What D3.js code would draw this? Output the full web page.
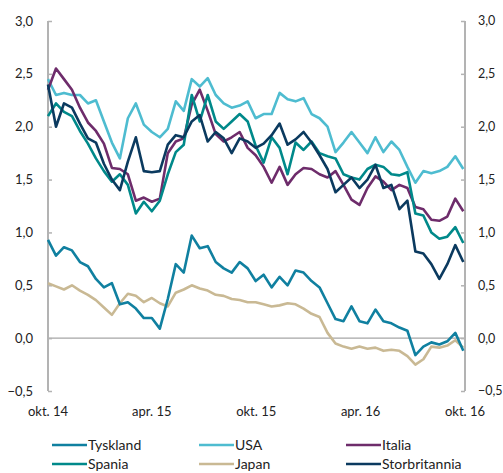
<!DOCTYPE html>
<html>
<head>
<meta charset="utf-8">
<script src="https://cdn.jsdelivr.net/npm/d3@7"></script>
<style>
  body { margin: 0; background: #fff; }
  text { font-family: Lato, "Open Sans", sans-serif; fill: #222; }
</style>
</head>
<body>
<div id="chart"></div>
<script>
// two-weekly observations from 1 Oct 2014
var startDate = new Date(2014, 9, 1);
var dates = d3.range(53).map(i => d3.timeDay.offset(startDate, 14 * i));

var tyskland = [0.93,0.78,0.86,0.83,0.72,0.68,0.56,0.48,0.52,0.32,0.34,0.28,0.19,0.19,0.09,0.37,0.70,0.62,0.97,0.85,
  0.87,0.72,0.66,0.62,0.72,0.66,0.54,0.60,0.48,0.58,0.50,0.64,0.62,0.54,0.48,0.33,0.18,0.16,0.30,0.16,
  0.14,0.27,0.16,0.14,0.10,0.07,-0.16,-0.08,-0.04,-0.06,-0.03,0.05,-0.12];
var usa = [2.45,2.30,2.32,2.30,2.30,2.22,2.25,2.05,1.85,1.70,2.08,2.22,2.02,1.95,1.90,1.98,2.24,2.15,2.45,2.38,
  2.46,2.30,2.22,2.18,2.20,2.24,2.08,2.12,2.12,2.32,2.26,2.24,2.27,2.12,2.08,2.00,1.76,1.85,1.95,1.85,
  1.75,1.90,1.76,1.86,1.78,1.62,1.47,1.58,1.56,1.58,1.62,1.72,1.60];
var italia = [2.35,2.55,2.45,2.35,2.18,2.04,1.96,1.84,1.61,1.60,1.55,1.30,1.33,1.29,1.32,1.75,1.86,1.89,2.21,2.35,
  2.15,1.93,1.86,1.90,1.95,1.80,1.73,1.62,1.47,1.62,1.45,1.55,1.61,1.60,1.55,1.52,1.58,1.45,1.31,1.26,
  1.42,1.53,1.48,1.40,1.45,1.42,1.24,1.22,1.12,1.11,1.15,1.32,1.20];
var spania = [2.10,2.22,2.14,2.10,1.96,1.84,1.70,1.58,1.48,1.55,1.45,1.18,1.29,1.20,1.30,1.55,1.76,1.83,2.30,2.05,
  2.30,2.05,1.98,2.05,2.12,2.05,1.82,1.66,1.90,1.80,1.55,1.85,1.78,1.86,1.75,1.72,1.70,1.55,1.52,1.50,
  1.60,1.64,1.62,1.55,1.54,1.57,1.18,1.16,1.00,0.94,0.96,1.05,0.90];
var japan = [0.52,0.49,0.46,0.50,0.45,0.41,0.36,0.29,0.22,0.33,0.42,0.40,0.34,0.38,0.33,0.30,0.43,0.46,0.50,0.47,
  0.45,0.41,0.40,0.37,0.36,0.34,0.34,0.32,0.30,0.31,0.33,0.32,0.28,0.23,0.20,0.05,-0.05,-0.08,-0.10,-0.08,
  -0.10,-0.09,-0.12,-0.11,-0.12,-0.17,-0.25,-0.20,-0.08,-0.09,-0.07,-0.02,-0.09];
var storbritannia = [2.40,2.00,2.22,2.18,2.03,1.89,1.85,1.65,1.50,1.40,1.67,1.90,1.58,1.57,1.58,1.83,1.92,1.90,2.05,2.11,
  1.86,1.95,1.89,1.75,1.89,1.86,1.80,1.84,1.92,2.03,1.83,1.88,1.95,1.85,1.73,1.60,1.38,1.45,1.52,1.42,
  1.50,1.64,1.42,1.45,1.22,1.30,0.82,0.80,0.70,0.56,0.70,0.88,0.72];

var yTicks = [3.0, 2.5, 2.0, 1.5, 1.0, 0.5, 0.0, -0.5];
var xTicks = [new Date(2014, 9, 1), new Date(2015, 3, 1), new Date(2015, 9, 1), new Date(2016, 3, 1), new Date(2016, 9, 1)];
var xTickLabels = ["okt. 14", "apr. 15", "okt. 15", "apr. 16", "okt. 16"];

var series = [
  {name: "USA", values: usa, color: "#4ebcd0"},
  {name: "Japan", values: japan, color: "#c9b994"},
  {name: "Tyskland", values: tyskland, color: "#1080a0"},
  {name: "Italia", values: italia, color: "#6e2c6b"},
  {name: "Spania", values: spania, color: "#00898a"},
  {name: "Storbritannia", values: storbritannia, color: "#0b3a5f"}
];
var legendOrder = ["Tyskland", "USA", "Italia", "Spania", "Japan", "Storbritannia"];

var svgWidth = 503, svgHeight = 473;
var margin = {top: 21, right: 38, bottom: 82, left: 48};
var width = svgWidth - margin.left - margin.right;
var height = svgHeight - margin.top - margin.bottom;

var svg = d3.select("#chart").append("svg")
  .attr("width", svgWidth)
  .attr("height", svgHeight);

var g = svg.append("g").attr("transform", `translate(${margin.left}, ${margin.top})`);

var x = d3.scaleTime().domain([xTicks[0], xTicks[4]]).range([0, width]);
var y = d3.scaleLinear().domain([-0.5, 3.0]).range([height, 0]);
var fmt = d => d3.format(".1f")(d).replace(".", ",");

// zero line
g.append("line")
  .attr("x1", 0).attr("x2", width)
  .attr("y1", y(0)).attr("y2", y(0))
  .attr("stroke", "#a6a6a6").attr("stroke-width", 1.2);

// left axis, ticks pointing inwards
var leftAxis = g.append("g")
  .call(d3.axisRight(y).tickValues(yTicks).tickSize(4).tickFormat(""));
leftAxis.select(".domain").remove();
leftAxis.selectAll("line").attr("stroke", "#b3b3b3").attr("stroke-width", 1.5);
g.append("line").attr("x1", 0).attr("x2", 0).attr("y1", 0).attr("y2", height)
  .attr("stroke", "#b3b3b3").attr("stroke-width", 2);

var rightAxis = g.append("g")
  .attr("transform", `translate(${width}, 0)`)
  .call(d3.axisLeft(y).tickValues(yTicks).tickSize(4).tickFormat(""));
rightAxis.select(".domain").remove();
rightAxis.selectAll("line").attr("stroke", "#b3b3b3").attr("stroke-width", 1.5);
g.append("line").attr("x1", width).attr("x2", width).attr("y1", 0).attr("y2", height)
  .attr("stroke", "#b3b3b3").attr("stroke-width", 2);

// tick labels
g.selectAll(".ylabL").data(yTicks).enter().append("text")
  .attr("x", -15).attr("y", d => y(d)).attr("dy", "0.35em")
  .attr("text-anchor", "end").style("font-size", "13px")
  .text(fmt);
g.selectAll(".ylabR").data(yTicks).enter().append("text")
  .attr("x", width + 13).attr("y", d => y(d)).attr("dy", "0.35em")
  .attr("text-anchor", "start").style("font-size", "12.5px")
  .text(fmt);
g.selectAll(".xlab").data(xTicks).enter().append("text")
  .attr("x", d => x(d)).attr("y", height + 20).attr("dy", "0.35em")
  .attr("text-anchor", "middle").style("font-size", "13px")
  .text((d, i) => xTickLabels[i]);

// lines
var line = d3.line()
  .x((d, i) => x(dates[i]))
  .y(d => y(d));

g.selectAll(".series").data(series).enter().append("path")
  .attr("d", d => line(d.values))
  .attr("fill", "none")
  .attr("stroke", d => d.color)
  .attr("stroke-width", 2.6)
  .attr("stroke-linejoin", "round");

// legend
var legend = svg.append("g");
var colX = [52, 199, 346];
var rowY = [445, 464];
legendOrder.forEach(function(name, i) {
  var s = series.find(d => d.name === name);
  var lx = colX[i % 3], ly = rowY[Math.floor(i / 3)];
  legend.append("line")
    .attr("x1", lx).attr("x2", lx + 35)
    .attr("y1", ly).attr("y2", ly)
    .attr("stroke", s.color).attr("stroke-width", 2.6);
  legend.append("text")
    .attr("x", lx + 36).attr("y", ly).attr("dy", "0.35em")
    .style("font-size", "14px")
    .text(name);
});
</script>
</body>
</html>
